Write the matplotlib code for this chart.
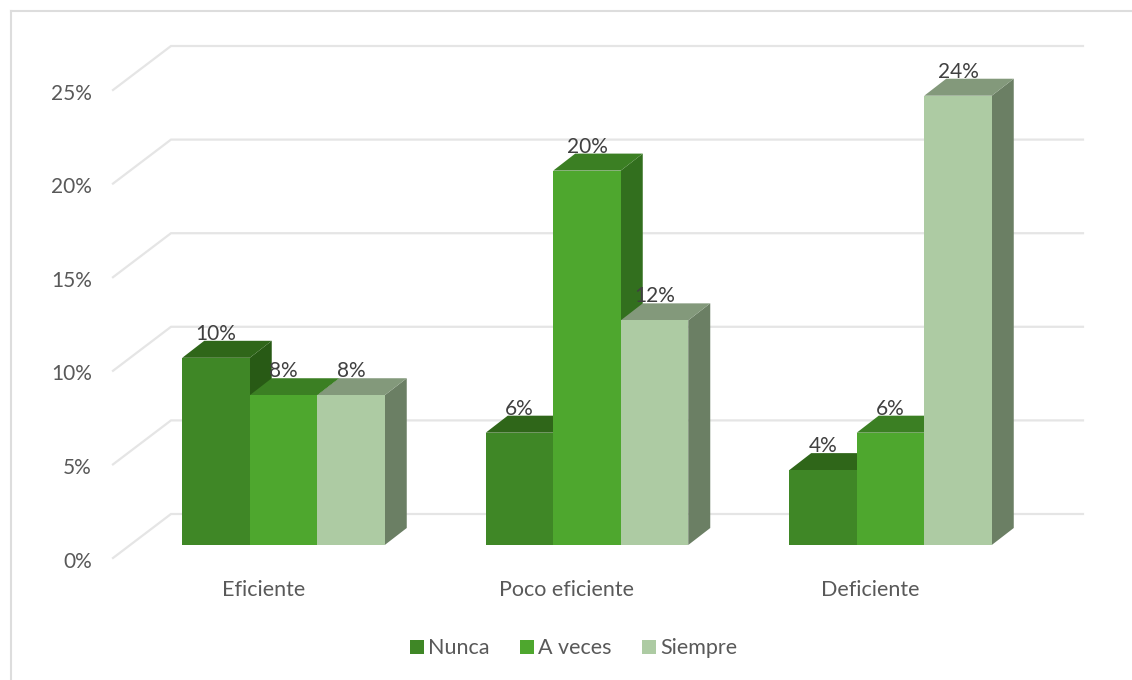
import matplotlib
matplotlib.use("Agg")
import matplotlib.pyplot as plt
from matplotlib.patches import Polygon, Patch
from matplotlib.lines import Line2D

categories = ["Eficiente", "Poco eficiente", "Deficiente"]
series_names = ["Nunca", "A veces", "Siempre"]
nunca = [10, 6, 4]
a_veces = [8, 20, 6]
siempre = [8, 12, 24]
y_ticks = [0, 5, 10, 15, 20, 25]

FRONT = ["#3F8726", "#4EA72E", "#ADCBA3"]
TOP = ["#2F6619", "#3B7F23", "#83997B"]
SIDE = ["#285A15", "#326F1E", "#6B7F64"]
TEXT = "#595959"
LABEL = "#404040"
GRID = "#E5E5E5"

W, H = 1132, 680
PX_X = 303.5           # pixels per category
PX_Y = 18.72           # pixels per percentage point
X0, Y0 = 283.5, 545.0  # pixel position of category 0 centre / bar baseline

plt.rcParams["font.family"] = ["Lato", "DejaVu Sans"]
fig = plt.figure(figsize=(W / 100, H / 100), dpi=100)
ax = fig.add_axes([0, 0, 1, 1])
ax.set_xlim(-X0 / PX_X, (W - X0) / PX_X)
ax.set_ylim((Y0 - H) / PX_Y, Y0 / PX_Y)
ax.axis("off")

def dx(px):
    return px / PX_X

def dy(px):
    return px / PX_Y

# outer chart frame
fig.add_artist(Line2D([10.5 / W, 10.5 / W], [0, 1 - 11 / H], transform=fig.transFigure,
                      color="#DDDDDD", lw=1.5))
fig.add_artist(Line2D([10.5 / W, 1], [1 - 11 / H, 1 - 11 / H], transform=fig.transFigure,
                      color="#DDDDDD", lw=1.5))

# gridlines on floor/back wall
x_front = (113 - X0) / PX_X
x_back = (171 - X0) / PX_X
x_end = (1083 - X0) / PX_X
for t in y_ticks:
    y_f = t - dy(13)
    y_b = t + dy(31)
    ax.plot([x_front, x_back, x_end], [y_f, y_b, y_b], color=GRID, lw=1.6,
            solid_joinstyle="miter", zorder=1)
    ax.text((92 - X0) / PX_X, t - dy(16.5), f"{t}%", ha="right", va="center",
            fontsize=15, color=TEXT, zorder=5)

# bars
bar_w = 67.5 / PX_X
ddx, ddy = dx(22), dy(17)
series = [nunca, a_veces, siempre]
z = 2
for c, cat in enumerate(categories):
    for s, values in enumerate(series):
        v = values[c]
        left = c + (s - 1.5) * bar_w
        right = left + bar_w
        ax.add_patch(Polygon([(right, 0), (right + ddx, ddy), (right + ddx, v + ddy), (right, v)],
                             closed=True, fc=SIDE[s], ec="none", zorder=z))
        ax.add_patch(Polygon([(left, v), (left + ddx, v + ddy), (right + ddx, v + ddy), (right, v)],
                             closed=True, fc=TOP[s], ec="none", zorder=z))
        ax.bar(left, v, width=bar_w, align="edge", color=FRONT[s], zorder=z + 0.1)
        z += 1
        ax.text(left + bar_w / 2, v + dy(24), f"{v}%", ha="center", va="center",
                fontsize=15, color=LABEL, zorder=50)
    ax.text(c - dx(20), -dy(45.5), cat, ha="center", va="center",
            fontsize=15.5, color=TEXT, zorder=50)

handles = [Patch(fc=FRONT[i], ec="none", label=series_names[i]) for i in range(3)]
leg = ax.legend(handles=handles, loc="center", bbox_to_anchor=(573.5 / W, 1 - 648.5 / H),
                bbox_transform=fig.transFigure, ncol=3, frameon=False, fontsize=15.5,
                handlelength=0.65, handleheight=0.65, handletextpad=0.2, columnspacing=1.4,
                labelcolor=TEXT)

fig.savefig("out.png", dpi=100)
